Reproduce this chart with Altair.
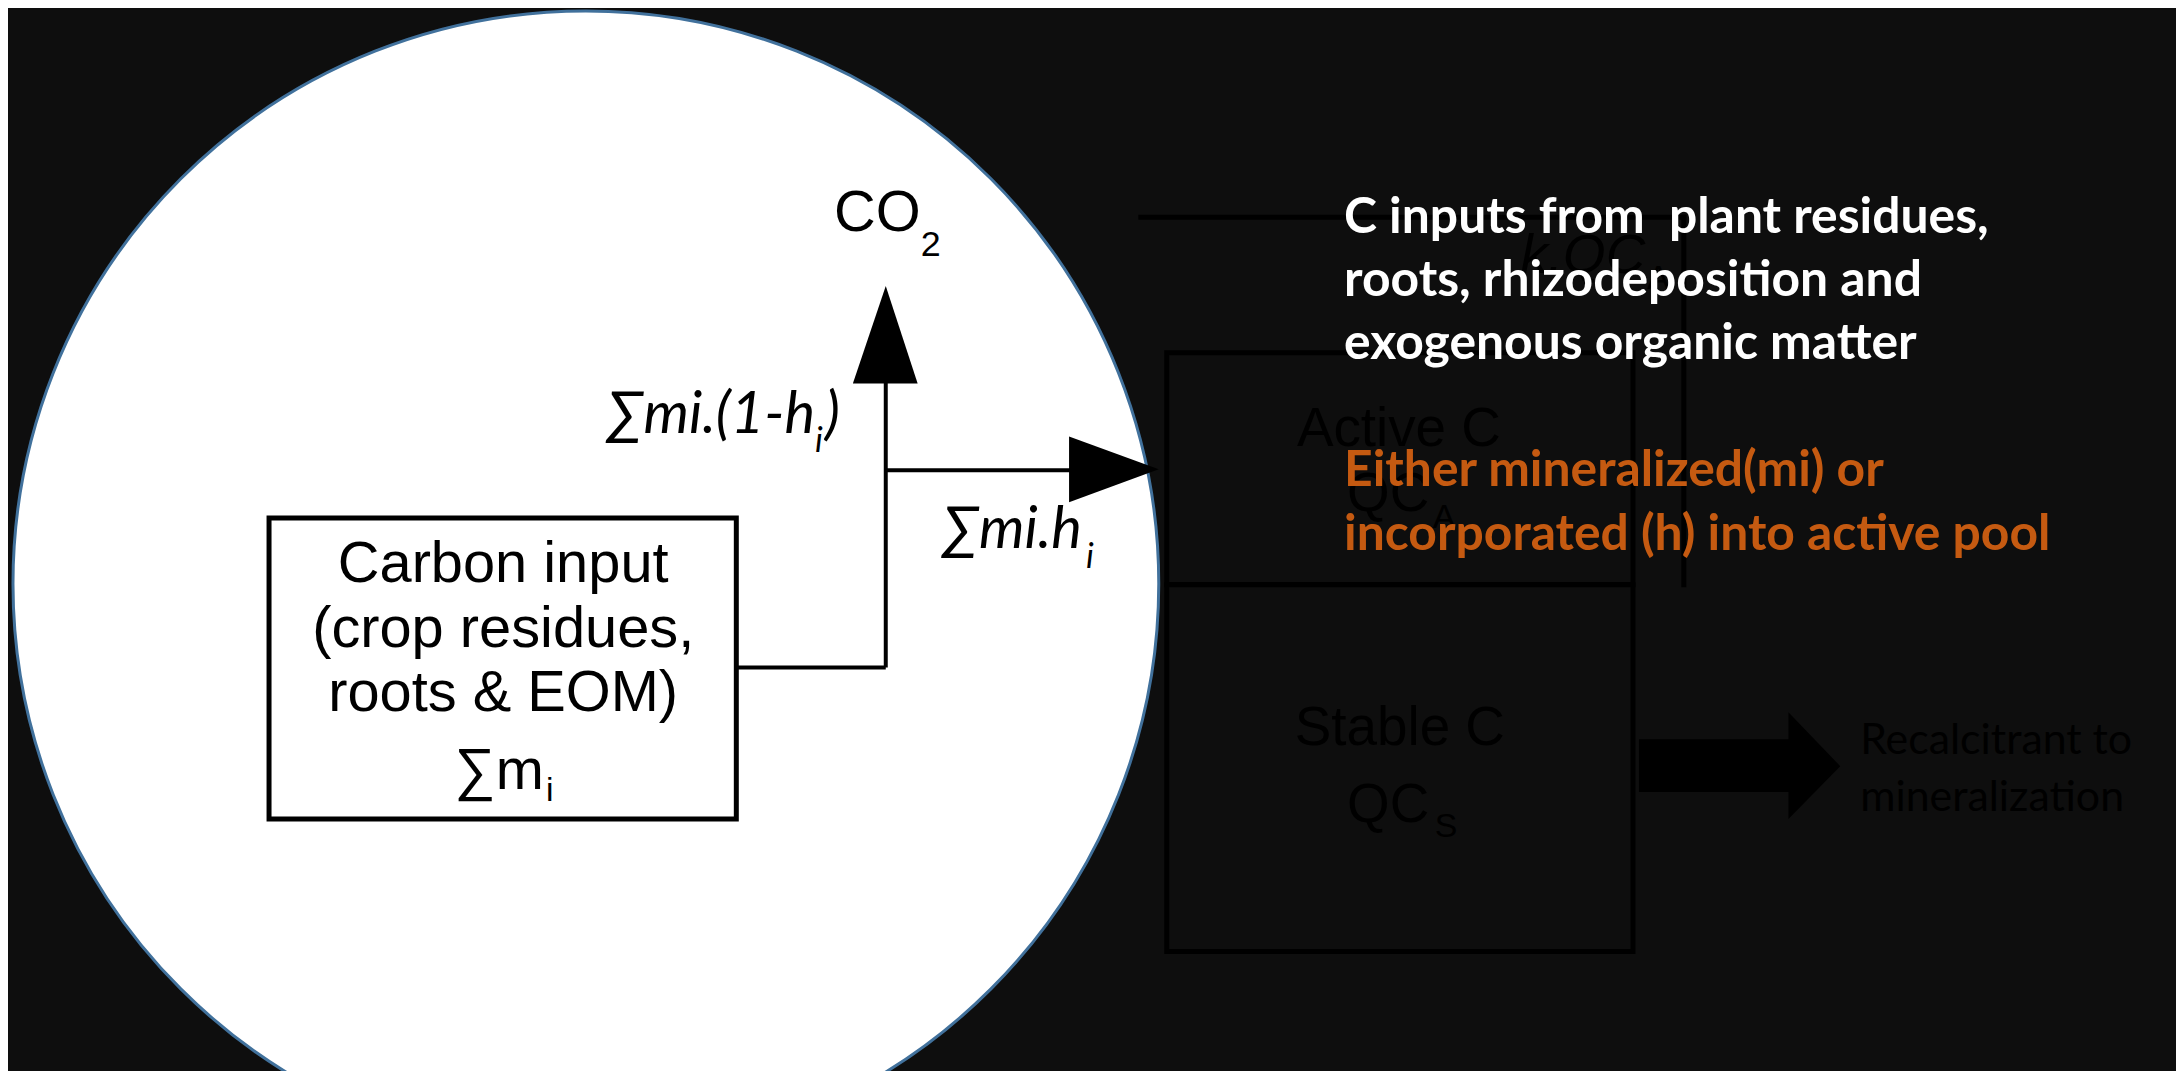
import altair as alt
import pandas as pd

# ---------------- canvas (reference pixel coordinates) ----------------
W, H = 2176, 1063
XDOM = [8, 2184]
YDOM = [1071, 8]
BG = "#0e0e0e"

# ---------------- circle (magnifier) ----------------
circle_cx = [588]
circle_cy = [584]
circle_r = [575]

# ---------------- boxes ----------------
box_x0 = [270, 1171, 1171]
box_x1 = [739, 1639, 1639]
box_y0 = [518, 352, 585]
box_y1 = [820, 585, 953]

# ---------------- connector lines ----------------
seg_x = [739, 889, 889, 1145, 1690]
seg_y = [668, 668, 470, 216, 216]
seg_x2 = [889, 889, 1080, 1690, 1690]
seg_y2 = [668, 380, 470, 216, 585]
seg_w = [4, 4, 4, 5, 5]

# ---------------- arrow heads (triangles) ----------------
up_x = [856, 889, 921]
up_y = [383, 285, 383]
right_y = [436, 469, 502]
right_x = [1073, 1163, 1073]
right_base = 1073
block_head_y = [713, 767, 820]
block_head_x = [1795, 1847, 1795]
block_head_base = 1795
shaft_x = [1645]
shaft_x2 = [1796]
shaft_y = [740]
shaft_y2 = [793]

# ---------------- texts ----------------
AR = "Liberation Sans"
LA = "Lato"
text_str = [
    "Carbon input", "(crop residues,", "roots & EOM)", "\u2211m", "i",
    "CO", "2",
    "\u2211mi.(1-h", "i", ")", "\u2211mi.h", "i",
    "Active C", "QC", "A", "Stable C", "QC", "S", "k.QC", "A",
    "Recalcitrant to", "mineralization",
    "C inputs from \u00a0plant residues,", "roots, rhizodeposition and", "exogenous organic matter",
    "Either mineralized(mi) or", "incorporated (h) into active pool",
]
text_x = [
    505, 505, 505, 501, 548,
    837, 924,
    818, 818, 828, 946, 1090,
    1404, 1352, 1438, 1405, 1352, 1440, 1526, 1653,
    1867, 1867,
    1349, 1349, 1349,
    1349, 1349,
]
text_y = [
    582, 647, 712, 790, 802,
    230, 255,
    433, 452, 433, 548, 568,
    446, 511, 528, 746, 823, 838, 272, 288,
    755, 812,
    232, 295, 358,
    486, 550,
]
text_size = [
    58, 58, 58, 58, 34,
    58, 36,
    58, 34, 58, 58, 34,
    55, 55, 34, 55, 55, 34, 55, 34,
    43, 43,
    50, 50, 50,
    50, 50,
]
text_font = [AR] * 7 + [LA] * 5 + [AR] * 8 + [LA] * 7
text_style = ["normal"] * 7 + ["italic"] * 5 + ["normal"] * 6 + ["italic", "normal"] + ["normal"] * 7
text_weight = ["normal"] * 22 + ["bold"] * 5
text_align = [
    "center", "center", "center", "center", "left",
    "left", "left",
    "right", "left", "left", "left", "left",
    "center", "left", "left", "center", "left", "left", "left", "left",
    "left", "left",
    "left", "left", "left",
    "left", "left",
]
text_color = (["#000000"] * 12 + ["#000000"] * 10 +
              ["#ffffff"] * 3 + ["#c55a11"] * 2)

# ---------------- build ----------------
xs = alt.Scale(domain=XDOM, nice=False, zero=False)
ys = alt.Scale(domain=YDOM, nice=False, zero=False)


def X(f="x"):
    return alt.X(f + ":Q", scale=xs, axis=None)


def Y(f="y"):
    return alt.Y(f + ":Q", scale=ys, axis=None)


layers = []

boxes = pd.DataFrame({"x": box_x0, "x2": box_x1, "y": box_y0, "y2": box_y1})
layers.append(alt.Chart(boxes.iloc[1:]).mark_rect(strokeWidth=5, fill=BG, stroke="#000000").encode(
    x=X(), x2="x2:Q", y=Y(), y2="y2:Q"))

segs = pd.DataFrame({"x": seg_x, "y": seg_y, "x2": seg_x2, "y2": seg_y2, "w": seg_w})
layers.append(alt.Chart(segs.iloc[3:]).mark_rule(color="#000000", strokeCap="square").encode(
    x=X(), y=Y(), x2="x2:Q", y2="y2:Q", strokeWidth=alt.StrokeWidth("w:Q", scale=None)))

shaft = pd.DataFrame({"x": shaft_x, "x2": shaft_x2, "y": shaft_y, "y2": shaft_y2})
layers.append(alt.Chart(shaft).mark_rect(color="#000000").encode(x=X(), x2="x2:Q", y=Y(), y2="y2:Q"))
bh = pd.DataFrame({"y": block_head_y, "x": block_head_x, "x2": [block_head_base] * 3})
layers.append(alt.Chart(bh).mark_area(orient="horizontal", color="#000000", opacity=1).encode(
    y=Y(), x=X(), x2="x2:Q"))

# circle
circ = pd.DataFrame({"x": circle_cx, "y": circle_cy, "s": [4 * r * r for r in circle_r]})
layers.append(alt.Chart(circ).mark_point(shape="circle", filled=True, fill="white", stroke="#41719c",
                                         strokeWidth=3, opacity=1, fillOpacity=1, strokeOpacity=1).encode(
    x=X(), y=Y(), size=alt.Size("s:Q", scale=None)))

# carbon box and flow lines
layers.append(alt.Chart(boxes.iloc[:1]).mark_rect(strokeWidth=5, fill="white", stroke="black").encode(
    x=X(), x2="x2:Q", y=Y(), y2="y2:Q"))
layers.append(alt.Chart(segs.iloc[:3]).mark_rule(color="black").encode(
    x=X(), y=Y(), x2="x2:Q", y2="y2:Q", strokeWidth=alt.StrokeWidth("w:Q", scale=None)))

up = pd.DataFrame({"x": up_x, "y": up_y, "y2": [up_y[0]] * 3})
layers.append(alt.Chart(up).mark_area(color="black", opacity=1).encode(x=X(), y=Y(), y2="y2:Q"))
rt = pd.DataFrame({"y": right_y, "x": right_x, "x2": [right_base] * 3})
layers.append(alt.Chart(rt).mark_area(orient="horizontal", color="black", opacity=1).encode(
    y=Y(), x=X(), x2="x2:Q"))

# texts
texts = pd.DataFrame({"t": text_str, "x": text_x, "y": text_y, "s": text_size, "font": text_font,
                      "style": text_style, "weight": text_weight, "align": text_align, "c": text_color})
for (font, style, weight, align), g in texts.groupby(["font", "style", "weight", "align"], sort=False):
    layers.append(alt.Chart(g.reset_index(drop=True)).mark_text(
        font=font, fontStyle=style, fontWeight=weight, align=align, baseline="alphabetic").encode(
        x=X(), y=Y(), text="t:N", size=alt.Size("s:Q", scale=None), color=alt.Color("c:N", scale=None)))

chart = alt.layer(*layers).properties(
    width=W, height=H, padding=0, autosize=alt.AutoSizeParams(type="none"), background=BG
).configure_view(stroke=None)

chart.save("out.html", embed_options={"renderer": "svg", "actions": False})
